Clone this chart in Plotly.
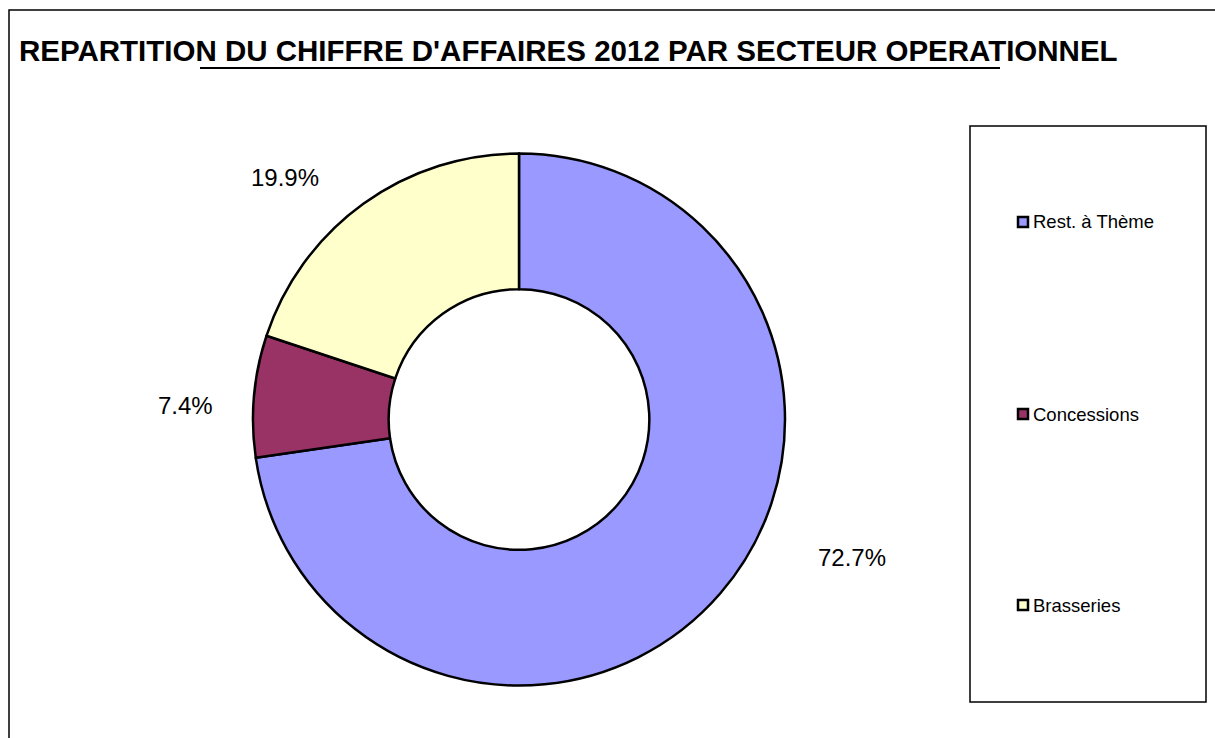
import plotly.graph_objects as go

# Data
categories = ["Rest. à Thème", "Concessions", "Brasseries"]
values = [72.7, 7.4, 19.9]
colors = ["#9999FF", "#993366", "#FFFFCC"]
title_text = "REPARTITION DU CHIFFRE D'AFFAIRES 2012 PAR SECTEUR OPERATIONNEL"

W, H = 1215, 738

def px(x):
    return x / W

def py(y):
    return 1 - y / H

fig = go.Figure()
fig.add_trace(go.Pie(
    labels=categories,
    values=values,
    hole=0.49,
    sort=False,
    direction="clockwise",
    rotation=0,
    marker=dict(colors=colors, line=dict(color="black", width=2.5)),
    textinfo="none",
    hoverinfo="label+percent",
    showlegend=False,
    domain=dict(x=[px(253), px(785)], y=[py(686), py(153)]),
))

# Data labels (text from values)
label_pos = {"Rest. à Thème": (852, 557), "Concessions": (185, 405), "Brasseries": (285, 178)}
annotations = []
for cat, val in zip(categories, values):
    x, y = label_pos[cat]
    annotations.append(dict(
        x=px(x), y=py(y), xref="paper", yref="paper",
        text=f"{val:.1f}%", showarrow=False,
        font=dict(family="Liberation Sans, Arial", size=24, color="black"),
        xanchor="center", yanchor="middle",
    ))

# Title
annotations.append(dict(
    x=px(17), y=py(51), xref="paper", yref="paper",
    text=f"<b>{title_text}</b>", showarrow=False,
    font=dict(family="Liberation Sans, Arial", size=29.5, color="black"),
    xanchor="left", yanchor="middle",
))

shapes = [
    # outer border (right/bottom clipped in reference)
    dict(type="rect", xref="paper", yref="paper",
         x0=px(9), y0=py(745), x1=px(1222), y1=py(10),
         line=dict(color="black", width=1.5), fillcolor="rgba(0,0,0,0)"),
    # title underline
    dict(type="line", xref="paper", yref="paper",
         x0=px(200), y0=py(68), x1=px(1000), y1=py(68),
         line=dict(color="black", width=2)),
    # legend box
    dict(type="rect", xref="paper", yref="paper",
         x0=px(970), y0=py(702), x1=px(1206), y1=py(126),
         line=dict(color="black", width=1.5), fillcolor="white"),
]

legend_y = [222, 414, 605]
for cat, col, ly in zip(categories, colors, legend_y):
    shapes.append(dict(type="rect", xref="paper", yref="paper",
                       x0=px(1018), y0=py(ly + 5), x1=px(1028), y1=py(ly - 5),
                       line=dict(color="black", width=2.5), fillcolor=col))
    annotations.append(dict(
        x=px(1031), y=py(ly), xref="paper", yref="paper",
        text=cat, showarrow=False,
        font=dict(family="Liberation Sans, Arial", size=18.5, color="black"),
        xanchor="left", yanchor="middle",
    ))

fig.update_layout(
    width=W, height=H,
    margin=dict(l=0, r=0, t=0, b=0),
    paper_bgcolor="white",
    plot_bgcolor="white",
    annotations=annotations,
    shapes=shapes,
    showlegend=False,
)

fig.write_html("out.html")
